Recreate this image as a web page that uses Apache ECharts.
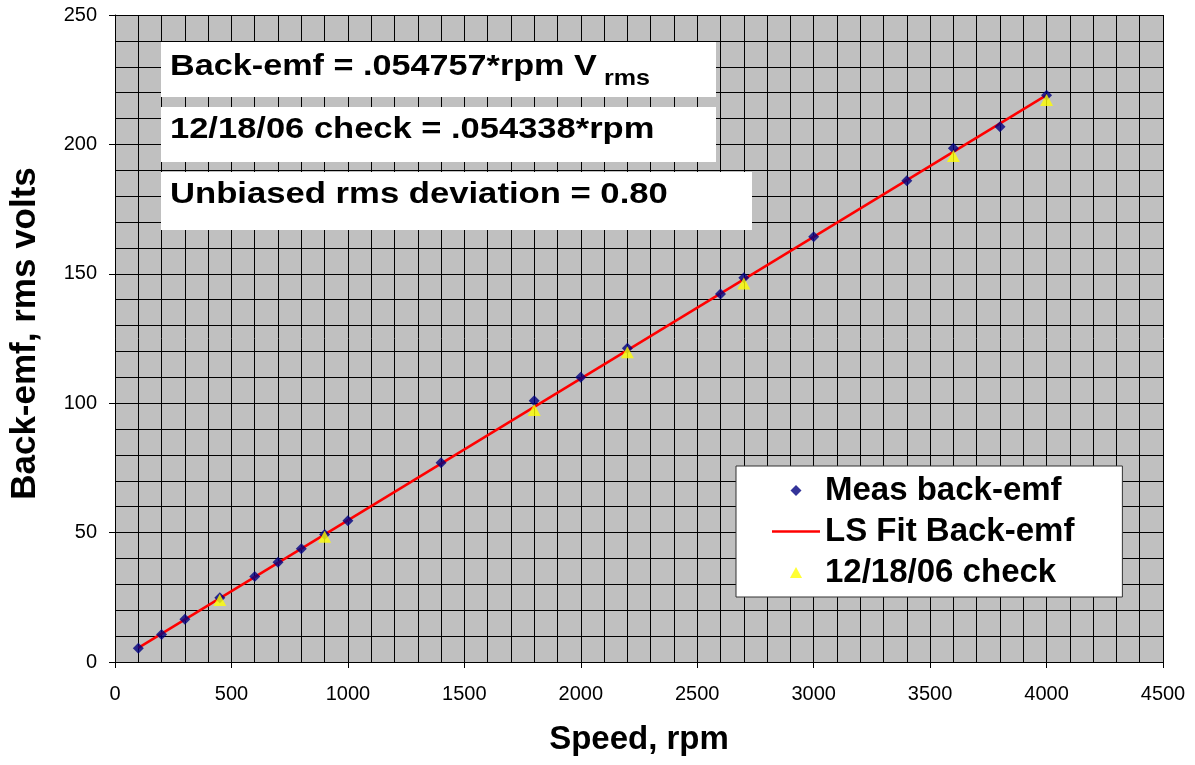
<!DOCTYPE html>
<html>
<head>
<meta charset="utf-8">
<script src="https://cdn.jsdelivr.net/npm/echarts@6/dist/echarts.min.js"></script>
<style>
html,body{margin:0;padding:0;background:#fff;}
#chart{width:1195px;height:765px;}
</style>
</head>
<body>
<div id="chart"></div>
<script>
// Measured back-emf (blue diamonds)
var measSpeed = [100, 200, 300, 450, 600, 700, 800, 900, 1000, 1400, 1800, 2000, 2200, 2600, 2700, 3000, 3400, 3600, 3800, 4000];
var measEmf   = [5.3, 10.6, 16.5, 24.8, 33.0, 38.5, 43.8, 49.3, 54.6, 77.0, 100.9, 110.0, 121.2, 142.2, 148.5, 164.3, 186.0, 198.5, 206.8, 219.0];
// LS fit line (end points)
var fitSpeed = [100, 4000];
var fitEmf   = [5.48, 219.03];
// 12/18/06 check (yellow triangles)
var checkSpeed = [450, 900, 1800, 2200, 2700, 3600, 4000];
var checkEmf   = [24.0, 48.4, 97.4, 119.7, 146.3, 195.5, 217.2];
// Tick labels
var xTicks = [0, 500, 1000, 1500, 2000, 2500, 3000, 3500, 4000, 4500];
var yTicks = [0, 50, 100, 150, 200, 250];
// Texts
var seriesNames = ['Meas back-emf', 'LS Fit Back-emf', '12/18/06 check'];
var boxTexts = ['Back-emf = .054757*rpm V', '12/18/06 check = .054338*rpm', 'Unbiased rms deviation = 0.80'];
var subText = 'rms';
var xName = 'Speed, rpm';
var yName = 'Back-emf, rms volts';

function zip(a, b) { return a.map(function (v, i) { return [v, b[i]]; }); }

var FONT = '"Liberation Sans", Arial, sans-serif';
var chart = echarts.init(document.getElementById('chart'), null, {renderer: 'canvas'});

var boxTextStyle = {fontFamily: FONT, fontWeight: 'bold', fontSize: 30, fill: '#000', verticalAlign: 'middle', align: 'left'};

var option = {
  backgroundColor: '#fff',
  animation: false,
  grid: {
    left: 113, right: 32, top: 15, bottom: 103,
    show: true, backgroundColor: '#C0C0C0', borderWidth: 0
  },
  xAxis: {
    type: 'value',
    min: xTicks[0], max: xTicks[xTicks.length - 1], interval: xTicks[1] - xTicks[0],
    name: xName, nameLocation: 'middle', nameGap: 61,
    nameTextStyle: {fontFamily: FONT, fontWeight: 'bold', fontSize: 33, color: '#000'},
    axisLine: {show: true, onZero: false, lineStyle: {color: '#000', width: 1}},
    axisTick: {show: true, length: 6, lineStyle: {color: '#000'}},
    axisLabel: {margin: 22, fontFamily: FONT, fontSize: 20, color: '#000', formatter: function (v) { return String(v); }},
    splitLine: {show: true, lineStyle: {color: '#000', width: 1}},
    minorTick: {show: false, splitNumber: 5},
    minorSplitLine: {show: true, lineStyle: {color: '#000', width: 1}}
  },
  yAxis: {
    type: 'value',
    min: yTicks[0], max: yTicks[yTicks.length - 1], interval: yTicks[1] - yTicks[0],
    name: yName, nameLocation: 'middle', nameGap: 72, nameRotate: 90,
    nameTextStyle: {fontFamily: FONT, fontWeight: 'bold', fontSize: 35, color: '#000', padding: [0, 0, 0, 10]},
    axisLine: {show: true, onZero: false, lineStyle: {color: '#000', width: 1}},
    axisTick: {show: true, length: 6, lineStyle: {color: '#000'}},
    axisLabel: {margin: 18, fontFamily: FONT, fontSize: 20, color: '#000', formatter: function (v) { return String(v); }},
    splitLine: {show: true, lineStyle: {color: '#000', width: 1}},
    minorTick: {show: false, splitNumber: 5},
    minorSplitLine: {show: true, lineStyle: {color: '#000', width: 1}}
  },
  legend: {
    orient: 'vertical',
    left: 736, top: 466,
    padding: [8, 48, 8, 36],
    itemGap: 8,
    itemWidth: 48, itemHeight: 11,
    symbolKeepAspect: true,
    backgroundColor: '#fff',
    borderColor: '#333', borderWidth: 1, borderRadius: 0,
    textStyle: {fontFamily: FONT, fontWeight: 'bold', fontSize: 33, lineHeight: 32, color: '#000'},
    data: [
      {name: seriesNames[0], icon: 'path://M0,-1L1,0L0,1L-1,0Z'},
      {name: seriesNames[1], icon: 'path://M0,0L48,0L48,2.5L0,2.5Z', itemStyle: {color: '#FF0000'}},
      {name: seriesNames[2], icon: 'path://M0,-1L1.1,1L-1.1,1Z'}
    ]
  },
  series: [
    {
      name: seriesNames[1], type: 'line', data: zip(fitSpeed, fitEmf),
      symbol: 'none', showSymbol: false, lineStyle: {color: '#FF0000', width: 2.5}, itemStyle: {color: '#FF0000'}, z: 3
    },
    {
      name: seriesNames[0], type: 'scatter', data: zip(measSpeed, measEmf),
      symbol: 'diamond', symbolSize: 11, itemStyle: {color: '#000080'}, z: 4
    },
    {
      name: seriesNames[2], type: 'scatter', data: zip(checkSpeed, checkEmf),
      symbol: 'triangle', symbolSize: [13, 12], itemStyle: {color: '#FFFF00'}, z: 5
    }
  ],
  graphic: [
    {type: 'rect', z: 100, shape: {x: 161, y: 42, width: 555, height: 55}, style: {fill: '#fff'}},
    {type: 'rect', z: 100, shape: {x: 161, y: 107, width: 555, height: 55}, style: {fill: '#fff'}},
    {type: 'rect', z: 100, shape: {x: 161, y: 172, width: 591, height: 58}, style: {fill: '#fff'}},
    {type: 'text', z: 101, x: 170, y: 67, scaleX: 1.14, style: Object.assign({text: boxTexts[0]}, boxTextStyle)},
    {type: 'text', z: 101, x: 604, y: 79, scaleX: 1.14, style: Object.assign({}, boxTextStyle, {text: subText, fontSize: 22})},
    {type: 'text', z: 101, x: 170, y: 130, scaleX: 1.15, style: Object.assign({text: boxTexts[1]}, boxTextStyle)},
    {type: 'text', z: 101, x: 170, y: 195, scaleX: 1.155, style: Object.assign({text: boxTexts[2]}, boxTextStyle)}
  ]
};
chart.setOption(option);
</script>
</body>
</html>
